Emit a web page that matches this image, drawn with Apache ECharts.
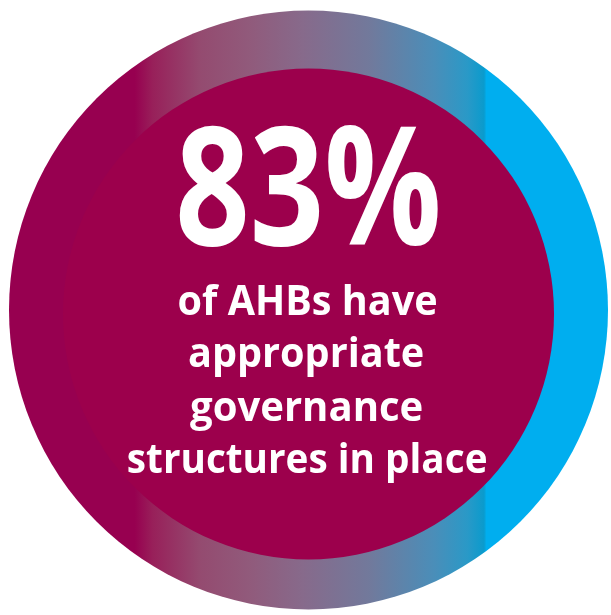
<!DOCTYPE html>
<html><head><meta charset="utf-8">
<script src="https://cdn.jsdelivr.net/npm/echarts@6/dist/echarts.min.js"></script>
<style>html,body{margin:0;padding:0;background:#fff}#c{width:611px;height:615px}</style>
</head><body><div id="c"></div>
<script>
// ---- data ----
const shareValue = 83;                       // percent of AHBs
const shareLabel = shareValue + '%';
const captionLines = ['of AHBs have', 'appropriate', 'governance', 'structures in place'];
const ringData = [{ name: 'ring', value: 100 }];
const discData = [{ name: 'disc', value: 100 }];

// ---- layout / style ----
const FONT = '"Open Sans", "Noto Sans", sans-serif';
const measureCtx = document.createElement('canvas').getContext('2d');
function measure(str, size, weight) {
  measureCtx.font = weight + ' ' + size + 'px ' + FONT;
  measureCtx.textBaseline = 'middle';
  measureCtx.textAlign = 'center';
  return measureCtx.measureText(str);
}

// build a text element whose ink box fits the target box
function fitText(str, weight, size, inkLeft, inkRight, baselineOrTop, mode) {
  const m = measure(str, size, weight);
  const l = m.actualBoundingBoxLeft, r = m.actualBoundingBoxRight;
  const sx = (inkRight - inkLeft) / (l + r);
  const inkCenterLocal = (r - l) / 2;
  const x = (inkLeft + inkRight) / 2 - sx * inkCenterLocal;
  let y;
  if (mode === 'top') {
    y = baselineOrTop + m.actualBoundingBoxAscent;
  } else {
    const h = measure('H', size, weight);
    y = baselineOrTop - h.actualBoundingBoxDescent;
  }
  return {
    type: 'text', x: x, y: y, scaleX: sx, silent: true, z: 100,
    style: {
      text: str, fill: '#ffffff', fontSize: size, fontWeight: weight, fontFamily: FONT,
      align: 'center', verticalAlign: 'middle', textAlign: 'center', textVerticalAlign: 'middle'
    }
  };
}

// font size from ink height
function sizeForHeight(str, weight, target) {
  const m = measure(str, 100, weight);
  return 100 * target / (m.actualBoundingBoxAscent + m.actualBoundingBoxDescent);
}

const bigSize = sizeForHeight(shareLabel, 'bold', 122);
const smallSize = sizeForHeight('H', 'bold', 30);

const captionBoxes = [
  [178.5, 436, 314.5],
  [189, 422.7, 366.7],
  [190, 421.7, 420.7],
  [127.8, 486, 472.5]
];

const graphics = [fitText(shareLabel, 'bold', bigSize, 179.3, 438, 125, 'top')];
captionLines.forEach((t, i) => {
  const b = captionBoxes[i];
  graphics.push(fitText(t, 'bold', smallSize, b[0], b[1], b[2], 'base'));
});

const ringGradient = new echarts.graphic.LinearGradient(0, 0, 1, 0, [
  { offset: 0, color: '#970050' },
  { offset: 0.21, color: '#970050' },
  { offset: 0.24, color: '#98205a' },
  { offset: 0.32, color: '#944b70' },
  { offset: 0.40, color: '#915a7b' },
  { offset: 0.49, color: '#876a8b' },
  { offset: 0.60, color: '#72799b' },
  { offset: 0.71, color: '#4a8eb9' },
  { offset: 0.765, color: '#2a99c7' },
  { offset: 0.793, color: '#0a9bcd' },
  { offset: 0.797, color: '#00aeef' },
  { offset: 1, color: '#00aeef' }
]);

const common = {
  type: 'pie', silent: true, animation: false, startAngle: 90,
  label: { show: false }, labelLine: { show: false },
  emphasis: { disabled: true }
};

const chart = echarts.init(document.getElementById('c'), null, { renderer: 'canvas' });
chart.setOption({
  backgroundColor: '#ffffff',
  animation: false,
  series: [
    Object.assign({}, common, {
      name: 'ring', center: [308.5, 310], radius: [0, 299.5], z: 1,
      itemStyle: { color: ringGradient, borderWidth: 0 },
      data: ringData
    }),
    Object.assign({}, common, {
      name: 'disc', center: [308.5, 314], radius: [0, 245.5], z: 2,
      itemStyle: { color: '#9c004c', borderWidth: 0 },
      data: discData
    })
  ],
  graphic: graphics
});
</script>
</body></html>
